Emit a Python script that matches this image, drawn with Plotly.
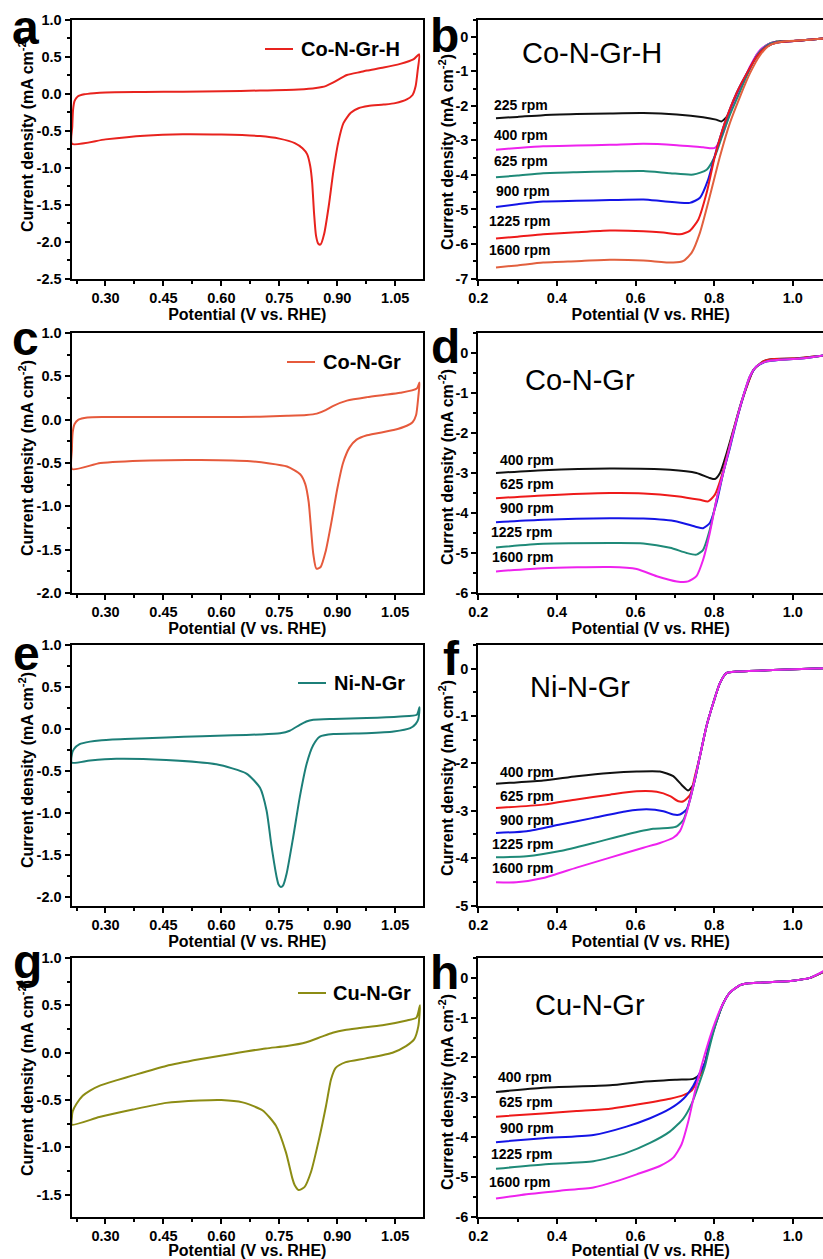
import plotly.graph_objects as go

W, H = 823, 1259
FONT = "Liberation Sans, Arial, Helvetica, sans-serif"

# ======================= DATA =======================
# ---- CV panels (potential V vs RHE, current density mA cm-2), closed loops ----
cv_a_E = [0.213, 0.214, 0.216, 0.220, 0.228, 0.245, 0.27, 0.30, 0.40, 0.50, 0.60, 0.70, 0.80, 0.845, 0.87, 0.89,
          0.925, 0.96, 0.977, 1.02, 1.063, 1.097, 1.112,
          1.108, 1.103, 1.095, 1.08, 1.05, 1.02, 0.98, 0.955, 0.935, 0.916, 0.903, 0.89, 0.878, 0.866, 0.857,
          0.851, 0.845, 0.840, 0.835, 0.830, 0.822, 0.810, 0.79, 0.75, 0.70, 0.60, 0.50, 0.40, 0.30, 0.213]
cv_a_J = [-0.68, -0.45, -0.22, -0.10, -0.04, -0.01, 0.005, 0.015, 0.02, 0.025, 0.03, 0.04, 0.055, 0.075, 0.10, 0.15,
          0.25, 0.29, 0.31, 0.35, 0.40, 0.46, 0.53,
          0.30, 0.10, -0.02, -0.08, -0.13, -0.15, -0.17, -0.20, -0.26, -0.40, -0.65, -1.05, -1.52, -1.90, -2.04,
          -2.03, -1.92, -1.62, -1.20, -0.98, -0.82, -0.74, -0.67, -0.61, -0.575, -0.555, -0.55, -0.57, -0.62, -0.68]

cv_c_E = [0.213, 0.213, 0.215, 0.220, 0.23, 0.253, 0.30, 0.45, 0.60, 0.70, 0.77, 0.82, 0.847, 0.87, 0.89, 0.925,
          0.977, 1.02, 1.063, 1.106, 1.113,
          1.110, 1.104, 1.095, 1.08, 1.046, 0.977, 0.950, 0.932, 0.915, 0.900, 0.885, 0.870, 0.857, 0.846, 0.838,
          0.831, 0.826, 0.817, 0.804, 0.77, 0.675, 0.546, 0.416, 0.287, 0.213]
cv_c_J = [-0.57, -0.35, -0.15, -0.05, 0.0, 0.025, 0.03, 0.03, 0.03, 0.035, 0.045, 0.055, 0.07, 0.11, 0.16, 0.22,
          0.26, 0.285, 0.31, 0.36, 0.43,
          0.27, 0.05, -0.03, -0.07, -0.12, -0.18, -0.23, -0.32, -0.50, -0.80, -1.18, -1.52, -1.70, -1.72, -1.55,
          -1.20, -0.95, -0.74, -0.63, -0.54, -0.48, -0.465, -0.47, -0.50, -0.57]

cv_e_E = [0.213, 0.213, 0.218, 0.233, 0.26, 0.284, 0.35, 0.457, 0.55, 0.63, 0.70, 0.752, 0.777, 0.803, 0.82, 0.838,
          0.89, 0.976, 1.063, 1.106, 1.113,
          1.110, 1.103, 1.089, 1.046, 0.976, 0.890, 0.855, 0.838, 0.821, 0.803, 0.786, 0.769, 0.760, 0.754, 0.748,
          0.743, 0.730, 0.717, 0.700, 0.665, 0.587, 0.457, 0.328, 0.26, 0.213]
cv_e_J = [-0.40, -0.30, -0.24, -0.18, -0.15, -0.135, -0.12, -0.10, -0.085, -0.075, -0.065, -0.05, -0.02, 0.05, 0.09,
          0.11, 0.12, 0.13, 0.15, 0.17, 0.26,
          0.12, 0.06, 0.01, -0.03, -0.05, -0.06, -0.09, -0.19, -0.41, -0.81, -1.285, -1.72, -1.86, -1.88, -1.85,
          -1.76, -1.40, -0.97, -0.70, -0.53, -0.42, -0.37, -0.355, -0.375, -0.40]

cv_g_E = [0.213, 0.213, 0.215, 0.225, 0.241, 0.26, 0.284, 0.33, 0.371, 0.457, 0.543, 0.629, 0.715, 0.77, 0.82, 0.86,
          0.888, 0.92, 0.957, 1.017, 1.08, 1.105, 1.114,
          1.110, 1.099, 1.078, 1.043, 0.974, 0.922, 0.896, 0.884, 0.871, 0.853, 0.832, 0.815, 0.800, 0.790, 0.784,
          0.767, 0.741, 0.707, 0.655, 0.60, 0.543, 0.457, 0.371, 0.284, 0.213]
cv_g_J = [-0.76, -0.68, -0.62, -0.54, -0.455, -0.40, -0.35, -0.29, -0.24, -0.14, -0.07, -0.01, 0.045, 0.07, 0.11, 0.17,
          0.21, 0.24, 0.26, 0.29, 0.34, 0.37, 0.50,
          0.28, 0.14, 0.07, 0.0, -0.06, -0.10, -0.16, -0.28, -0.56, -0.91, -1.26, -1.42, -1.45, -1.40, -1.33,
          -1.05, -0.77, -0.61, -0.525, -0.50, -0.505, -0.53, -0.60, -0.68, -0.76]

# ---- LSV panels ----
rpm_b = ["225 rpm", "400 rpm", "625 rpm", "900 rpm", "1225 rpm", "1600 rpm"]
rpm_dfh = ["400 rpm", "625 rpm", "900 rpm", "1225 rpm", "1600 rpm"]

# Panel b: Co-N-Gr-H
b225_E = [0.245, 0.30, 0.365, 0.45, 0.535, 0.62, 0.705, 0.772, 0.805, 0.819, 0.836, 0.857, 0.883, 0.908, 0.934, 0.959, 1.001, 1.04, 1.078]
b225_J = [-2.36, -2.32, -2.27, -2.24, -2.22, -2.21, -2.25, -2.33, -2.40, -2.45, -2.26, -1.73, -1.11, -0.53, -0.24, -0.14, -0.12, -0.09, -0.05]
b400_E = [0.245, 0.30, 0.365, 0.45, 0.535, 0.62, 0.705, 0.772, 0.802, 0.823, 0.840, 0.866, 0.891, 0.917, 0.942, 0.976, 1.04, 1.078]
b400_J = [-3.27, -3.22, -3.17, -3.15, -3.13, -3.10, -3.14, -3.20, -3.22, -2.79, -2.21, -1.54, -0.87, -0.38, -0.19, -0.14, -0.09, -0.05]
b625_E = [0.245, 0.30, 0.365, 0.45, 0.535, 0.62, 0.688, 0.747, 0.781, 0.802, 0.823, 0.840, 0.866, 0.891, 0.917, 0.942, 0.976, 1.04, 1.078]
b625_J = [-4.07, -4.02, -3.95, -3.92, -3.90, -3.89, -3.95, -3.99, -3.85, -3.46, -2.79, -2.26, -1.58, -0.92, -0.42, -0.20, -0.14, -0.09, -0.05]
b900_E = [0.245, 0.30, 0.365, 0.45, 0.535, 0.62, 0.671, 0.738, 0.764, 0.785, 0.806, 0.827, 0.857, 0.883, 0.908, 0.934, 0.959, 1.04, 1.078]
b900_J = [-4.93, -4.85, -4.77, -4.75, -4.73, -4.71, -4.76, -4.81, -4.66, -4.13, -3.27, -2.50, -1.63, -1.06, -0.58, -0.29, -0.17, -0.09, -0.05]
b1225_E = [0.245, 0.30, 0.365, 0.45, 0.535, 0.62, 0.671, 0.713, 0.738, 0.760, 0.781, 0.802, 0.827, 0.857, 0.883, 0.908, 0.934, 0.959, 1.04, 1.078]
b1225_J = [-5.84, -5.79, -5.72, -5.66, -5.61, -5.63, -5.67, -5.72, -5.62, -5.29, -4.52, -3.46, -2.50, -1.63, -1.06, -0.58, -0.29, -0.17, -0.09, -0.05]
b1600_E = [0.245, 0.30, 0.365, 0.45, 0.535, 0.62, 0.696, 0.722, 0.743, 0.764, 0.789, 0.815, 0.840, 0.866, 0.891, 0.917, 0.942, 0.976, 1.04, 1.078]
b1600_J = [-6.68, -6.62, -6.54, -6.50, -6.46, -6.48, -6.54, -6.49, -6.25, -5.67, -4.62, -3.46, -2.50, -1.73, -1.06, -0.53, -0.24, -0.14, -0.09, -0.05]

# Panel d: Co-N-Gr
d400_E = [0.245, 0.365, 0.535, 0.688, 0.755, 0.789, 0.802, 0.815, 0.832, 0.849, 0.866, 0.883, 0.900, 0.925, 0.950, 1.001, 1.078]
d400_J = [-3.00, -2.93, -2.89, -2.92, -3.00, -3.125, -3.15, -3.00, -2.50, -1.92, -1.33, -0.83, -0.42, -0.21, -0.15, -0.14, -0.07]
d625_E = [0.245, 0.365, 0.535, 0.62, 0.705, 0.764, 0.785, 0.802, 0.819, 0.832, 0.849, 0.866, 0.883, 0.900, 0.925, 0.950, 1.001, 1.078]
d625_J = [-3.63, -3.56, -3.50, -3.51, -3.58, -3.67, -3.71, -3.54, -3.08, -2.60, -1.95, -1.36, -0.85, -0.43, -0.21, -0.15, -0.14, -0.07]
d900_E = [0.245, 0.365, 0.535, 0.62, 0.705, 0.755, 0.772, 0.789, 0.806, 0.823, 0.840, 0.857, 0.874, 0.891, 0.908, 0.934, 0.967, 1.02, 1.078]
d900_J = [-4.23, -4.17, -4.13, -4.14, -4.21, -4.35, -4.38, -4.25, -3.75, -3.00, -2.38, -1.70, -1.10, -0.60, -0.34, -0.21, -0.17, -0.14, -0.06]
d1225_E = [0.245, 0.365, 0.535, 0.62, 0.688, 0.730, 0.755, 0.772, 0.789, 0.806, 0.823, 0.840, 0.857, 0.874, 0.891, 0.908, 0.934, 0.967, 1.02, 1.078]
d1225_J = [-4.86, -4.77, -4.75, -4.76, -4.87, -5.00, -5.04, -4.92, -4.42, -3.67, -3.00, -2.33, -1.67, -1.08, -0.58, -0.33, -0.21, -0.17, -0.14, -0.06]
d1600_E = [0.245, 0.365, 0.535, 0.603, 0.654, 0.705, 0.734, 0.755, 0.772, 0.789, 0.806, 0.823, 0.840, 0.857, 0.874, 0.891, 0.908, 0.934, 0.967, 1.02, 1.078]
d1600_J = [-5.46, -5.38, -5.35, -5.40, -5.58, -5.71, -5.71, -5.58, -5.17, -4.50, -3.67, -3.00, -2.33, -1.67, -1.08, -0.58, -0.33, -0.21, -0.17, -0.14, -0.06]

# Panel f: Ni-N-Gr
f400_E = [0.245, 0.28, 0.365, 0.45, 0.535, 0.603, 0.662, 0.696, 0.717, 0.734, 0.747, 0.764, 0.781, 0.798, 0.815, 0.832, 0.857, 0.95, 1.078]
f400_J = [-2.43, -2.41, -2.36, -2.27, -2.20, -2.17, -2.17, -2.27, -2.45, -2.57, -2.45, -1.84, -1.20, -0.72, -0.30, -0.09, -0.06, -0.03, 0.01]
f625_E = [0.245, 0.365, 0.45, 0.535, 0.603, 0.654, 0.688, 0.709, 0.722, 0.739, 0.751, 0.764, 0.781, 0.798, 0.815, 0.832, 0.857, 0.95, 1.078]
f625_J = [-2.94, -2.87, -2.76, -2.66, -2.59, -2.60, -2.69, -2.80, -2.80, -2.66, -2.27, -1.84, -1.20, -0.72, -0.30, -0.09, -0.06, -0.03, 0.01]
f900_E = [0.245, 0.323, 0.408, 0.493, 0.577, 0.628, 0.671, 0.696, 0.713, 0.730, 0.747, 0.764, 0.781, 0.798, 0.815, 0.832, 0.857, 0.95, 1.078]
f900_J = [-3.47, -3.43, -3.29, -3.15, -3.01, -2.97, -3.01, -3.08, -3.08, -2.97, -2.48, -1.84, -1.20, -0.72, -0.30, -0.09, -0.06, -0.03, 0.01]
f1225_E = [0.245, 0.323, 0.408, 0.493, 0.577, 0.645, 0.688, 0.705, 0.722, 0.739, 0.751, 0.764, 0.781, 0.798, 0.815, 0.832, 0.857, 0.95, 1.078]
f1225_J = [-3.98, -3.96, -3.85, -3.68, -3.50, -3.38, -3.36, -3.33, -3.19, -2.76, -2.34, -1.84, -1.20, -0.72, -0.30, -0.09, -0.06, -0.03, 0.01]
f1600_E = [0.245, 0.297, 0.365, 0.45, 0.535, 0.62, 0.662, 0.696, 0.713, 0.730, 0.747, 0.764, 0.781, 0.798, 0.815, 0.832, 0.857, 0.95, 1.078]
f1600_J = [-4.51, -4.51, -4.42, -4.20, -3.99, -3.78, -3.68, -3.57, -3.43, -3.04, -2.48, -1.84, -1.20, -0.72, -0.30, -0.09, -0.06, -0.03, 0.01]

# Panel h: Cu-N-Gr
h400_E = [0.245, 0.365, 0.535, 0.62, 0.705, 0.747, 0.764, 0.777, 0.789, 0.806, 0.823, 0.840, 0.866, 0.883, 0.917, 0.959, 1.001, 1.044, 1.078]
h400_J = [-2.87, -2.76, -2.70, -2.61, -2.56, -2.54, -2.42, -2.13, -1.63, -1.09, -0.64, -0.37, -0.18, -0.14, -0.12, -0.10, -0.07, 0.0, 0.15]
h625_E = [0.245, 0.365, 0.45, 0.535, 0.62, 0.688, 0.722, 0.743, 0.760, 0.777, 0.789, 0.806, 0.823, 0.840, 0.866, 0.883, 0.917, 0.959, 1.001, 1.044, 1.078]
h625_J = [-3.49, -3.41, -3.35, -3.29, -3.16, -3.04, -2.95, -2.83, -2.54, -2.13, -1.63, -1.09, -0.64, -0.37, -0.18, -0.14, -0.12, -0.10, -0.07, 0.0, 0.15]
h900_E = [0.245, 0.365, 0.493, 0.577, 0.637, 0.688, 0.722, 0.747, 0.764, 0.777, 0.789, 0.806, 0.823, 0.840, 0.866, 0.883, 0.917, 0.959, 1.001, 1.044, 1.078]
h900_J = [-4.13, -4.03, -3.95, -3.74, -3.53, -3.29, -3.04, -2.71, -2.38, -2.13, -1.63, -1.09, -0.64, -0.37, -0.18, -0.14, -0.12, -0.10, -0.07, 0.0, 0.16]
h1225_E = [0.245, 0.365, 0.493, 0.577, 0.637, 0.688, 0.722, 0.743, 0.760, 0.777, 0.789, 0.806, 0.823, 0.840, 0.866, 0.883, 0.917, 0.959, 1.001, 1.044, 1.078]
h1225_J = [-4.80, -4.69, -4.61, -4.40, -4.15, -3.86, -3.53, -3.16, -2.71, -2.21, -1.71, -1.11, -0.66, -0.37, -0.18, -0.14, -0.12, -0.10, -0.07, 0.0, 0.16]
h1600_E = [0.245, 0.323, 0.408, 0.493, 0.552, 0.603, 0.662, 0.696, 0.717, 0.734, 0.751, 0.768, 0.785, 0.802, 0.819, 0.840, 0.866, 0.883, 0.917, 0.959, 1.001, 1.044, 1.078]
h1600_J = [-5.55, -5.44, -5.35, -5.27, -5.11, -4.94, -4.73, -4.52, -4.19, -3.62, -2.87, -2.21, -1.63, -1.13, -0.72, -0.37, -0.18, -0.14, -0.12, -0.10, -0.07, 0.0, 0.17]

# ---- tick values / labels ----
cv_x_ticks = [0.30, 0.45, 0.60, 0.75, 0.90, 1.05]
cv_x_labels = ["0.30", "0.45", "0.60", "0.75", "0.90", "1.05"]
cv_x_minor = [0.225, 0.375, 0.525, 0.675, 0.825, 0.975]
lsv_x_ticks = [0.2, 0.4, 0.6, 0.8, 1.0]
lsv_x_labels = ["0.2", "0.4", "0.6", "0.8", "1.0"]
lsv_x_minor = [0.3, 0.5, 0.7, 0.9]

cv_a_yticks = [-2.5, -2.0, -1.5, -1.0, -0.5, 0.0, 0.5, 1.0]
cv_c_yticks = [-2.0, -1.5, -1.0, -0.5, 0.0, 0.5, 1.0]
cv_e_yticks = [-2.0, -1.5, -1.0, -0.5, 0.0, 0.5, 1.0]
cv_g_yticks = [-1.5, -1.0, -0.5, 0.0, 0.5, 1.0]
lsv_b_yticks = [-7, -6, -5, -4, -3, -2, -1, 0]
lsv_d_yticks = [-6, -5, -4, -3, -2, -1, 0]
lsv_f_yticks = [-5, -4, -3, -2, -1, 0]
lsv_h_yticks = [-6, -5, -4, -3, -2, -1, 0]

# ======================= STYLE / LAYOUT =======================
C_BLACK = "#111111"
C_MAG = "#ee22ee"
C_TEAL = "#1f8a78"
C_BLUE = "#1414e6"
C_RED = "#ee1a1a"
C_ORANGE = "#e2603e"

rows = [(19.5, 278.5), (333, 593), (645, 905.5), (958, 1216.5)]
left_px = (71.5, 423)
right_px = (478.3, 823)
# y-title centres (x px, y px) per panel
ytitle_pos = [(26, 134), (446, 152), (26, 458), (446, 467), (26, 770), (446, 778), (26, 1078), (446, 1092)]


def fx(p):
    return p / W


def fy(p):
    return 1 - p / H


def hy(v):
    return "-" + f"{abs(v):.1f}" if v < 0 else f"{v:.1f}"


def hyi(v):
    return "-" + str(abs(v)) if v < 0 else str(v)


fig = go.Figure()

panels = [
    ("cv", 0, 0, [-2.5, 1.0], cv_a_yticks),
    ("lsv", 0, 1, [-7, 0.5], lsv_b_yticks),
    ("cv", 1, 0, [-2.0, 1.0], cv_c_yticks),
    ("lsv", 1, 1, [-6, 0.5], lsv_d_yticks),
    ("cv", 2, 0, [-2.1, 1.0], cv_e_yticks),
    ("lsv", 2, 1, [-5, 0.5], lsv_f_yticks),
    ("cv", 3, 0, [-1.73, 1.0], cv_g_yticks),
    ("lsv", 3, 1, [-6, 0.5], lsv_h_yticks),
]

tickfont = dict(family=FONT, size=14.5, color="black", weight="bold")
layout_axes = {}
annotations = []
shapes = []
for i, (kind, r, c, yr, yt) in enumerate(panels):
    n = i + 1
    sx = "" if n == 1 else str(n)
    top, bot = rows[r]
    xp = left_px if c == 0 else right_px
    if kind == "cv":
        xr = [0.212, 1.122]
        xt, xl, xm = cv_x_ticks, cv_x_labels, cv_x_minor
        ylab = [hy(v) for v in yt]
        ym = [v + 0.25 for v in yt[:-1]]
    else:
        xr = [0.2, 1.077]
        xt, xl, xm = lsv_x_ticks, lsv_x_labels, lsv_x_minor
        ylab = [hyi(v) for v in yt]
        ym = [v + 0.5 for v in yt]
    common = dict(showline=True, linecolor="black", linewidth=2, ticks="outside", ticklen=5, tickwidth=1.5,
                  tickcolor="black", tickfont=tickfont, showgrid=False, zeroline=False, automargin=False,
                  fixedrange=True, tickmode="array")
    layout_axes["xaxis" + sx] = dict(
        common, domain=[fx(xp[0]), fx(xp[1])], range=xr, anchor="y" + sx, mirror=True,
        tickvals=xt, ticktext=xl,
        minor=dict(tickmode="array", tickvals=xm, ticks="outside", ticklen=3, tickwidth=1.5, tickcolor="black",
                   showgrid=False),
        title=dict(text="Potential (V vs. RHE)", font=dict(family=FONT, size=16, color="black", weight="bold"),
                   standoff=1),
    )
    layout_axes["yaxis" + sx] = dict(
        common, domain=[fy(bot), fy(top)], range=yr, anchor="x" + sx, mirror=(kind == "cv"),
        tickvals=yt, ticktext=ylab,
        minor=dict(tickmode="array", tickvals=ym, ticks="outside", ticklen=3, tickwidth=1.5, tickcolor="black",
                   showgrid=False),
    )
    tx, ty = ytitle_pos[i]
    annotations.append(dict(text="Current density (mA cm<sup>-2</sup>)", x=fx(tx), y=fy(ty), xref="paper",
                            yref="paper", xanchor="center", yanchor="middle", textangle=-90, showarrow=False,
                            font=dict(family=FONT, size=16, color="black", weight="bold")))


def add_line(E, J, color, n, width=2):
    sx = "" if n == 1 else str(n)
    fig.add_trace(go.Scatter(x=E, y=J, mode="lines", line=dict(color=color, width=width, shape="spline",
                                                                smoothing=0.6),
                             xaxis="x" + sx, yaxis="y" + sx, showlegend=False, hoverinfo="skip"))


# CV traces
add_line(cv_a_E, cv_a_J, "#e8231e", 1)
add_line(cv_c_E, cv_c_J, "#e65a3c", 3)
add_line(cv_e_E, cv_e_J, "#1c7f78", 5)
add_line(cv_g_E, cv_g_J, "#8c8c14", 7)

# LSV traces
b_series = [(b225_E, b225_J, C_BLACK), (b400_E, b400_J, C_MAG), (b625_E, b625_J, C_TEAL),
            (b900_E, b900_J, C_BLUE), (b1225_E, b1225_J, C_RED), (b1600_E, b1600_J, C_ORANGE)]
for E, J, col in b_series:
    add_line(E, J, col, 2)
d_series = [(d400_E, d400_J, C_BLACK), (d625_E, d625_J, C_RED), (d900_E, d900_J, C_BLUE),
            (d1225_E, d1225_J, C_TEAL), (d1600_E, d1600_J, C_MAG)]
for E, J, col in d_series:
    add_line(E, J, col, 4)
f_series = [(f400_E, f400_J, C_BLACK), (f625_E, f625_J, C_RED), (f900_E, f900_J, C_BLUE),
            (f1225_E, f1225_J, C_TEAL), (f1600_E, f1600_J, C_MAG)]
for E, J, col in f_series:
    add_line(E, J, col, 6)
h_series = [(h400_E, h400_J, C_BLACK), (h625_E, h625_J, C_RED), (h900_E, h900_J, C_BLUE),
            (h1225_E, h1225_J, C_TEAL), (h1600_E, h1600_J, C_MAG)]
for E, J, col in h_series:
    add_line(E, J, col, 8)

# panel letters: (letter, left px, centre px)
letters = [("a", 10, 27), ("b", 428, 36), ("c", 10, 338), ("d", 429, 346),
           ("e", 11, 653), ("f", 441, 658), ("g", 11, 961), ("h", 428, 972)]
for t, lx, cy in letters:
    annotations.append(dict(text=t, x=fx(lx), y=fy(cy), xref="paper", yref="paper", xanchor="left",
                            yanchor="middle", showarrow=False,
                            font=dict(family=FONT, size=48, color="black", weight="bold")))

# CV legends: (name, colour, line x0, x1, centre y, text left)
cv_leg = [("Co-N-Gr-H", "#e8231e", 265, 293, 49, 299),
          ("Co-N-Gr", "#e65a3c", 287, 315, 362, 321),
          ("Ni-N-Gr", "#1c7f78", 298, 326, 683, 332),
          ("Cu-N-Gr", "#8c8c14", 298, 326, 993, 331)]
for name, col, x0, x1, cy, tx in cv_leg:
    shapes.append(dict(type="line", xref="paper", yref="paper", x0=fx(x0), x1=fx(x1), y0=fy(cy), y1=fy(cy),
                       line=dict(color=col, width=2)))
    annotations.append(dict(text=name, x=fx(tx), y=fy(cy), xref="paper", yref="paper", xanchor="left",
                            yanchor="middle", showarrow=False,
                            font=dict(family=FONT, size=20, color="black", weight="bold")))

# LSV sample titles
lsv_titles = [("Co-N-Gr-H", 520, 53), ("Co-N-Gr", 523, 380), ("Ni-N-Gr", 528, 687), ("Cu-N-Gr", 533, 1005)]
for name, lx, cy in lsv_titles:
    annotations.append(dict(text=name, x=fx(lx), y=fy(cy), xref="paper", yref="paper", xanchor="left",
                            yanchor="middle", showarrow=False,
                            font=dict(family=FONT, size=29, color="black")))

# rpm labels (x, y in data coords of each LSV panel)
rpm_pos = {
    2: [(0.236, -1.97), (0.234, -2.84), (0.236, -3.59), (0.240, -4.47), (0.223, -5.34), (0.221, -6.17)],
    4: [(0.249, -2.67), (0.249, -3.27), (0.251, -3.88), (0.228, -4.47), (0.230, -5.10)],
    6: [(0.249, -2.19), (0.249, -2.68), (0.251, -3.19), (0.230, -3.70), (0.230, -4.21)],
    8: [(0.245, -2.50), (0.247, -3.12), (0.249, -3.77), (0.226, -4.44), (0.223, -5.13)],
}
for n, pos in rpm_pos.items():
    labels = rpm_b if n == 2 else rpm_dfh
    for lab, (x, y) in zip(labels, pos):
        annotations.append(dict(text=lab, x=x, y=y, xref="x" + str(n), yref="y" + str(n), xanchor="left",
                                yanchor="middle", showarrow=False,
                                font=dict(family=FONT, size=14, color="black", weight="bold")))

fig.update_layout(width=W, height=H, margin=dict(l=0, r=0, t=0, b=0), paper_bgcolor="white",
                  plot_bgcolor="white", showlegend=False, annotations=annotations, shapes=shapes,
                  **layout_axes)

fig.write_html("out.html", config={"displayModeBar": False})
